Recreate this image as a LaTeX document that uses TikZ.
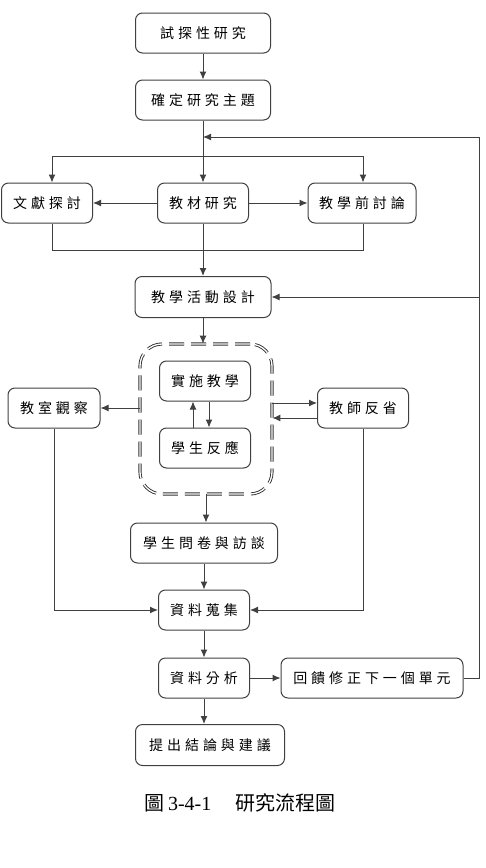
\documentclass[tikz,border=0pt]{standalone}
\usepackage{fontspec}
\newfontfamily\cjk[LetterSpace=28]{Noto Sans CJK TC}
\newfontfamily\cjkcap{Noto Sans CJK TC}
\newfontfamily\capserif{Liberation Serif}
\usetikzlibrary{arrows, arrows.meta}
\usetikzlibrary{shapes}
\tikzset{
  box/.style={draw=black!75, line width=1pt, rounded corners=7pt, minimum height=40pt,
    inner sep=0pt, font=\cjk\fontsize{14pt}{16pt}\selectfont},
  grpbox/.style={draw=black!80, double, double distance=1.3pt, line width=0.9pt,
    dash pattern=on 15pt off 7pt, rounded corners=22pt, minimum width=132pt,
    minimum height=150pt, inner sep=0pt},
  link/.style={draw=black!75, line width=1pt},
}

\begin{document}
\begin{tikzpicture}[x=1pt, y=-1pt, >={Latex[length=8pt,width=7pt]}]
\useasboundingbox (0,0) rectangle (486,868);
% boxes
\node[box, minimum width=135pt] (s1) at (203,33) {試探性研究};
\node[box, minimum width=135pt] (s2) at (203,100) {確定研究主題};
\node[box, minimum width=91pt] (lit) at (47,203) {文獻探討};
\node[box, minimum width=91pt] (mat) at (203,203) {教材研究};
\node[box, minimum width=108pt] (pre) at (362,203) {教學前討論};
\node[box, minimum width=136pt, minimum height=41pt] (design) at (203,297) {教學活動設計};
\node[grpbox] (grp) at (206,419) {};
\node[box, minimum width=91pt] (teach) at (205,381) {實施教學};
\node[box, minimum width=91pt] (resp) at (205,448) {學生反應};
\node[box, minimum width=92pt] (obs) at (54,408) {教室觀察};
\node[box, minimum width=91pt] (refl) at (363,408) {教師反省};
\node[box, minimum width=147pt] (quest) at (204,543) {學生問卷與訪談};
\node[box, minimum width=91pt] (coll) at (204,610) {資料蒐集};
\node[box, minimum width=91pt] (anal) at (204,678) {資料分析};
\node[box, minimum width=182pt] (fb) at (372,678) {回饋修正下一個單元};
\node[box, minimum width=149pt, minimum height=41pt] (concl) at (210,745) {提出結論與建議};
\node[font=\fontsize{20pt}{23pt}\selectfont] (cap) at (240,803)
  {{\cjkcap 圖}\,{\capserif 3-4-1}\hspace{24pt}{\cjkcap 研究流程圖}};
% helper points
\coordinate (bl) at (52,156);
\coordinate (br) at (363,156);
\coordinate (bb) at (52,250);
\coordinate (fr) at (479,137);
\coordinate (fl) at (203,137);
\coordinate (r1) at ([yshift=5pt]refl.west);
\coordinate (r2) at ([yshift=-10pt]refl.west);
% connectors
\draw[link,->] (s1) -- (s2);
\draw[link,->] (s2) -- (mat);
\draw[link] (bl) -- (br);
\draw[link,->] (bl) -- (bl |- lit.north);
\draw[link,->] (br) -- (br |- pre.north);
\draw[link,->] (mat) -- (lit);
\draw[link,->] (mat) -- (pre);
\draw[link] (bl |- lit.south) -- (bb) -| (br |- pre.south);
\draw[link,->] (mat) -- (design);
\draw[link,->] (fb.east) -| (fr) -- (fl);
\draw[link,->] (fr |- design.east) -- (design.east);
\draw[link,->] (design.south) -- (design.south |- grp.north);
\draw[link,->] (grp.west |- obs.east) -- (obs.east);
\draw[link,->] (r1 -| grp.east) -- (r1);
\draw[link,->] (r2) -- (r2 -| grp.east);
\draw[link,->] ([xshift=-12pt]resp.north) -- ([xshift=-12pt]teach.south);
\draw[link,->] ([xshift=4pt]teach.south) -- ([xshift=4pt]resp.north);
\draw[link,->] (grp.south) -- (grp.south |- quest.north);
\draw[link,->] (quest) -- (coll);
\draw[link,->] (obs.south) |- (coll.west);
\draw[link,->] (refl.south) |- (coll.east);
\draw[link,->] (coll) -- (anal);
\draw[link,->] (anal) -- (fb);
\draw[link,->] (anal.south) -- (anal.south |- concl.north);
\end{tikzpicture}
\end{document}
